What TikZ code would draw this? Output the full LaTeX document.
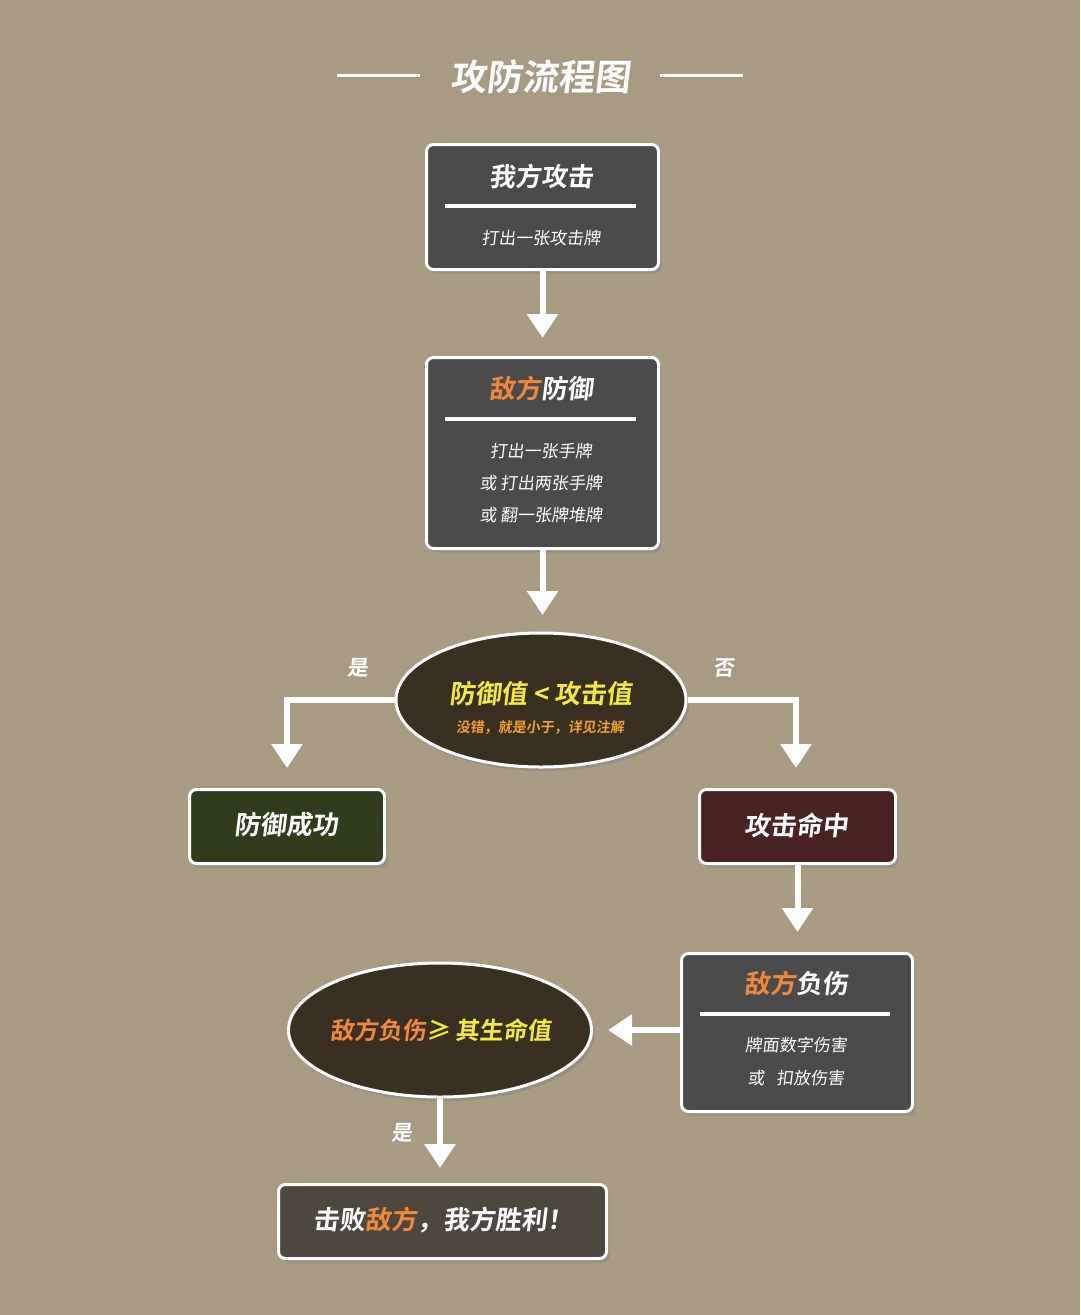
\documentclass[tikz,border=0pt]{standalone}
\usepackage{fontspec}
\setmainfont{Noto Sans CJK SC}[BoldFont={Noto Sans CJK SC Bold},FakeSlant=0.12]
\usetikzlibrary{arrows.meta,shadows,shapes.geometric}
\definecolor{bg}{HTML}{A89B82}
\definecolor{boxg}{HTML}{4B4B4B}
\definecolor{ell}{HTML}{3A3022}
\definecolor{grn}{HTML}{2F3D1C}
\definecolor{red}{HTML}{4A2222}
\definecolor{fin}{HTML}{4E473E}
\definecolor{org}{HTML}{F0873A}
\definecolor{yel}{HTML}{F2E840}
\definecolor{suborg}{HTML}{F0A030}
\tikzset{
 box/.style={draw=white,line width=3pt,rounded corners=7pt,fill=boxg,anchor=north west,inner sep=0pt,drop shadow={shadow xshift=3pt,shadow yshift=-4pt,opacity=0.45}},
 oval/.style={ellipse,draw=white,line width=3pt,fill=ell,inner sep=0pt,drop shadow={shadow xshift=3pt,shadow yshift=-4pt,opacity=0.45}},
 arr/.style={draw=white,line width=6pt,-{Triangle[width=30pt,length=24pt]}},
 ln/.style={draw=white,line width=4pt},
 hd/.style={text=white,font=\bfseries\fontsize{26}{26}\selectfont},
 sm/.style={text=white,font=\fontsize{17}{17}\selectfont},
 lab/.style={text=white,font=\bfseries\fontsize{21}{21}\selectfont},
}
\begin{document}
\begin{tikzpicture}[x=1pt,y=-1pt]
\fill[bg] (0,0) rectangle (1080,1315);
\useasboundingbox (0,0) rectangle (1080,1315);
% title
\node[text=white,font=\bfseries\fontsize{36}{36}\selectfont] (title) at (540,77) {攻防流程图};
\coordinate (tl1) at (337,75); \coordinate (tl2) at (420,75);
\coordinate (tr1) at (660,75); \coordinate (tr2) at (743,75);
\draw[white,line width=3pt] (tl1)--(tl2) (tr1)--(tr2);
% box1
\node[box,minimum width=232pt,minimum height=125pt] (b1) at (425,143) {};
\node[hd] (b1t) at (541,176) {我方攻击};
\coordinate (r1a) at (445,206); \coordinate (r1b) at (636,206);
\draw[ln] (r1a)--(r1b);
\node[sm] (b1s) at (541,238) {打出一张攻击牌};
% box2
\node[box,minimum width=232pt,minimum height=191pt] (b2) at (425,356) {};
\node[hd] (b2t) at (541,388) {\textcolor{org}{敌方}防御};
\coordinate (r2a) at (445,419); \coordinate (r2b) at (636,419);
\draw[ln] (r2a)--(r2b);
\node[sm] (b2s1) at (541,451) {打出一张手牌};
\node[sm] (b2s2) at (541,483) {或 打出两张手牌};
\node[sm] (b2s3) at (541,515) {或 翻一张牌堆牌};
\coordinate (a1) at (541,338);
\draw[arr] (b1.south) -- (b1.south |- a1);
% ellipse 1
\node[oval,minimum width=290pt,minimum height=134pt] (e1) at (541,700) {};
\node[text=yel,font=\bfseries\fontsize{26}{26}\selectfont] (e1t) at (541,694) {防御值 < 攻击值};
\node[text=suborg,font=\bfseries\fontsize{14}{14}\selectfont] (e1s) at (540,727) {没错，就是小于，详见注解};
\coordinate (a2) at (541,615);
\draw[arr] (b2.south) -- (b2.south |- a2);
% branches
\node[box,fill=grn,minimum width=195pt,minimum height=74pt] (ok) at (188,788) {};
\node[hd] (okt) at (286,825) {防御成功};
\node[box,fill=red,minimum width=196pt,minimum height=74pt] (hit) at (698,788) {};
\node[hd] (hitt) at (796,825) {攻击命中};
\coordinate (lc) at (287,700); \coordinate (rc) at (796,700);
\draw[arr] (e1.west) -- (lc) -- (287,768);
\draw[arr] (e1.east) -- (rc) -- (796,768);
\node[lab] (yes1) at (358,668) {是};
\node[lab] (no1) at (724,668) {否};
% box3
\node[box,minimum width=231pt,minimum height=158pt] (b3) at (680,952) {};
\node[hd] (b3t) at (796,984) {\textcolor{org}{敌方}负伤};
\coordinate (r3a) at (700,1014); \coordinate (r3b) at (890,1014);
\draw[ln] (r3a)--(r3b);
\node[sm] (b3s1) at (796,1045) {牌面数字伤害};
\node[sm] (b3s2) at (796,1078) {或\hspace{12pt}扣放伤害};
\coordinate (a3) at (796,932);
\draw[arr] (hit.south) -- (hit.south |- a3);
% ellipse 2
\node[oval,minimum width=303pt,minimum height=134pt] (e2) at (440,1030) {};
\node[font=\bfseries\fontsize{24}{24}\selectfont] (e2t) at (441,1030) {\textcolor{org}{敌方负伤}\textcolor{yel}{ ≥ 其生命值}};
\coordinate (a4) at (608,1030);
\draw[arr] (b3.west |- a4) -- (a4);
% final
\node[box,fill=fin,minimum width=328pt,minimum height=74pt] (fin) at (277,1183) {};
\node[hd] (fint) at (443,1220) {击败\textcolor{org}{敌方}，我方胜利！};
\coordinate (a5) at (440,1168);
\draw[arr] (e2.south) -- (e2.south |- a5);
\node[lab] (yes2) at (402,1133) {是};
\end{tikzpicture}
\end{document}
